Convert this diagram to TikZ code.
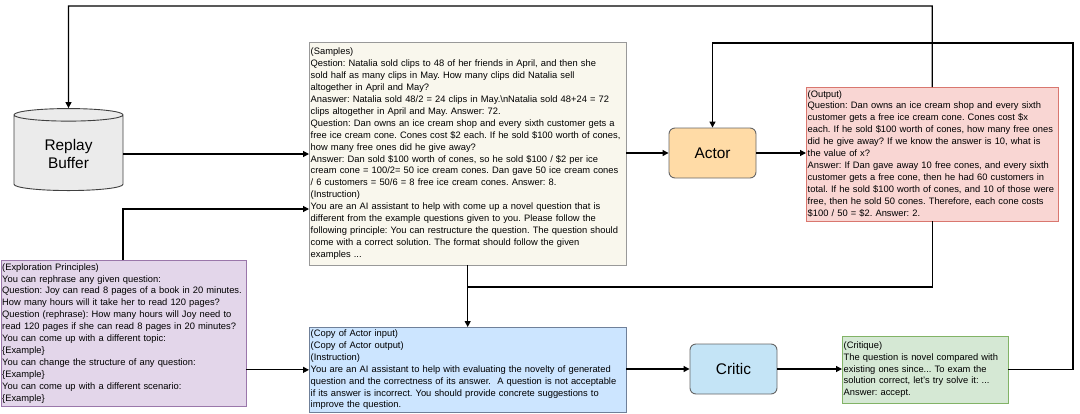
\documentclass[tikz,border=0pt]{standalone}
\usepackage{fontspec}
\setmainfont{Liberation Sans}
\usetikzlibrary{shapes.geometric,arrows.meta}
\definecolor{smpfill}{HTML}{F9F7ED}
\definecolor{actfill}{HTML}{FFDBA6}
\definecolor{outfill}{HTML}{F9D6D3}
\definecolor{outline}{HTML}{D9776F}
\definecolor{expfill}{HTML}{E3D6EA}
\definecolor{expline}{HTML}{9A77AA}
\definecolor{cpyfill}{HTML}{CCE5FF}
\definecolor{cpyline}{HTML}{6F8099}
\definecolor{crtfill}{HTML}{C4E4F6}
\definecolor{cqfill}{HTML}{D5E8D4}
\definecolor{cqline}{HTML}{82B366}
\definecolor{bufill}{HTML}{EBEBEB}
\frenchspacing
\newcommand{\boxlines}[1]{\begin{tabular}{@{}l@{}}#1\end{tabular}}

\begin{document}
\begin{tikzpicture}[x=1pt,y=-1pt,
  txtbox/.style={draw,anchor=north west,align=left,inner xsep=1.5pt,inner ysep=1pt,
    font=\fontsize{9.35}{11.9}\selectfont},
  agent/.style={draw=black!60,rounded corners=6pt,line width=0.9pt,minimum width=87,minimum height=50,
    font=\fontsize{15.4}{18}\selectfont},
  flow/.style={line width=1.2pt,-{Triangle[length=6pt,width=6pt]}},
  link/.style={line width=1.2pt}]
  \useasboundingbox (0,0) rectangle (1080,413);

  %replay buffer
  \node[cylinder,shape border rotate=90,aspect=0.23,draw=black!75,fill=bufill,line width=0.9pt,
    minimum width=109,minimum height=82,align=center,font=\fontsize{15.4}{18.5}\selectfont]
    (buffer) at (68.5,154) {Replay\\Buffer};

  %samples and instruction
  \node[txtbox,draw=black!40,fill=smpfill,text width=314,minimum height=223] (samples) at (309,42) {\boxlines{(Samples)\\
Qestion: Natalia sold clips to 48 of her friends in April, and then she\\
sold half as many clips in May. How many clips did Natalia sell\\
altogether in April and May?\\
Anaswer: Natalia sold 48/2 = 24 clips in May.\textbackslash nNatalia sold 48+24 = 72\\
clips altogether in April and May. Answer: 72.\\
Question: Dan owns an ice cream shop and every sixth customer gets a\\
free ice cream cone. Cones cost \$2 each. If he sold \$100 worth of cones,\\
how many free ones did he give away?\\
Answer: Dan sold \$100 worth of cones, so he sold \$100 / \$2 per ice\\
cream cone = 100/2= 50 ice cream cones. Dan gave 50 ice cream cones\\
/ 6 customers = 50/6 = 8 free ice cream cones. Answer: 8.\\
(Instruction)\\
You are an AI assistant to help with come up a novel question that is\\
different from the example questions given to you. Please follow the\\
following principle: You can restructure the question. The question should\\
come with a correct solution. The format should follow the given\\
examples ...}};

  %exploration principles
  \node[txtbox,draw=expline,fill=expfill,text width=242,minimum height=146] (expl) at (0.5,260) {\boxlines{(Exploration Principles)\\
You can rephrase any given question:\\
Question: Joy can read 8 pages of a book in 20 minutes.\\
How many hours will it take her to read 120 pages?\\
Question (rephrase): How many hours will Joy need to\\
read 120 pages if she can read 8 pages in 20 minutes?\\
You can come up with a different topic:\\
\{Example\}\\
You can change the structure of any question:\\
\{Example\}\\
You can come up with a different scenario:\\
\{Example\}}};

  %actor and its output
  \node[agent,fill=actfill] (actor) at (712.5,153) {Actor};
  \node[txtbox,draw=outline,fill=outfill,text width=249,minimum height=134] (output) at (806,87) {\boxlines{(Output)\\
Question: Dan owns an ice cream shop and every sixth\\
customer gets a free ice cream cone. Cones cost \$x\\
each. If he sold \$100 worth of cones, how many free ones\\
did he give away? If we know the answer is 10, what is\\
the value of x?\\
Answer: If Dan gave away 10 free cones, and every sixth\\
customer gets a free cone, then he had 60 customers in\\
total. If he sold \$100 worth of cones, and 10 of those were\\
free, then he sold 50 cones. Therefore, each cone costs\\
\$100 / 50 = \$2. Answer: 2.}};

  %critic input
  \node[txtbox,draw=cpyline,fill=cpyfill,text width=314,minimum height=83] (copy) at (309,327) {\boxlines{(Copy of Actor input)\\
(Copy of Actor output)\\
(Instruction)\\
You are an AI assistant to help with evaluating the novelty of generated\\
question and the correctness of its answer.\ \ A question is not acceptable\\
if its answer is incorrect. You should provide concrete suggestions to\\
improve the question.}};

  %critic and critique
  \node[agent,fill=crtfill] (critic) at (733.5,369) {Critic};
  \node[txtbox,draw=cqline,fill=cqfill,text width=163,minimum height=67] (critique) at (842,336) {\boxlines{(Critique)\\
The question is novel compared with\\
existing ones since... To exam the\\
solution correct, let's try solve it: ...\\
Answer: accept.}};

  %connectors
  \coordinate (ttop) at (68.5,6);
  \coordinate (rr) at (1073,43);
  \coordinate (jn) at (467.5,287);
  \coordinate (ex) at (123,209);
  \draw[flow] (output.north) |- (ttop) -- (buffer.north);
  \draw[flow] (buffer.east) -- (buffer.east -| samples.west);
  \draw[flow] (expl.north -| ex) -- (ex) -- (ex -| samples.west);
  \draw[flow] (samples.east |- actor.west) -- (actor.west);
  \draw[flow] (actor.east) -- (actor.east -| output.west);
  \draw[flow] (critique.east) -| (rr) -| (actor.north);
  \draw[link] (output.south) |- (jn);
  \draw[flow] (samples.south) -- (copy.north);
  \draw[flow] (expl.east |- copy.west) -- (copy.west);
  \draw[flow] (copy.east |- critic.west) -- (critic.west);
  \draw[flow] (critic.east) -- (critic.east -| critique.west);
\end{tikzpicture}
\end{document}
